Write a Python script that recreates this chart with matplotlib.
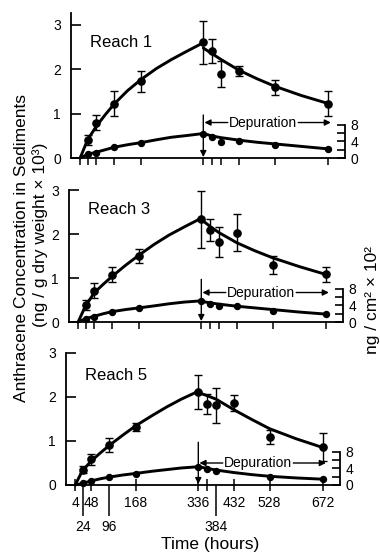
import matplotlib
matplotlib.use('Agg')
import matplotlib.pyplot as plt
import numpy as np

plt.rcParams['font.family'] = ['Liberation Sans', 'DejaVu Sans']

# ---------------- data ----------------
times = [24, 48, 96, 168, 336, 360, 384, 432, 528, 672]
reaches = ['Reach 1', 'Reach 3', 'Reach 5']

# sediment concentration (ng/g dry weight x 10^3), left axis
r1_sed = [0.41, 0.80, 1.22, 1.73, 2.61, 2.42, 1.89, 1.96, 1.60, 1.22]
r1_err = [0.11, 0.16, 0.28, 0.24, 0.49, 0.27, 0.29, 0.12, 0.17, 0.28]
r3_sed = [0.39, 0.71, 1.07, 1.50, 2.33, 2.08, 1.82, 2.03, 1.30, 1.09]
r3_err = [0.12, 0.17, 0.17, 0.17, 0.64, 0.25, 0.34, 0.42, 0.20, 0.17]
r5_sed = [0.35, 0.58, 0.90, 1.32, 2.11, 1.84, 1.81, 1.86, 1.09, 0.86]
r5_err = [0.08, 0.12, 0.16, 0.10, 0.38, 0.22, 0.40, 0.18, 0.15, 0.32]

# areal concentration (ng/cm^2 x 10^2), right axis
r1_area = [0.9, 1.1, 2.6, 3.5, 5.9, 5.1, 3.8, 4.2, 3.1, 2.2]
r3_area = [0.8, 1.3, 2.5, 3.3, 5.1, 4.3, 3.9, 3.9, 2.65, 1.85]
r5_area = [0.4, 1.0, 1.85, 2.65, 4.4, 3.8, 3.4, np.nan, 2.0, 1.37]

# fitted curves
fit_up_t = [4, 24, 48, 72, 96, 132, 168, 210, 250, 290, 336]
fit_dep_t = [336, 360, 384, 432, 480, 528, 600, 672]

r1_fit_up = [0, 0.41, 0.72, 0.98, 1.22, 1.52, 1.77, 2.02, 2.22, 2.40, 2.60]
r1_fit_dep = [2.48, 2.35, 2.22, 1.98, 1.79, 1.62, 1.41, 1.23]
r1_afit_up = [0, 0.9, 1.4, 2.0, 2.6, 3.2, 3.7, 4.4, 5.0, 5.4, 5.9]
r1_afit_dep = [5.9, 5.3, 4.9, 4.3, 3.8, 3.4, 2.8, 2.2]

r3_fit_up = [0, 0.37, 0.67, 0.86, 1.04, 1.29, 1.52, 1.77, 1.98, 2.16, 2.36]
r3_fit_dep = [2.33, 2.17, 2.03, 1.80, 1.62, 1.46, 1.26, 1.08]
r3_afit_up = [0, 0.8, 1.4, 2.0, 2.5, 3.0, 3.4, 3.9, 4.4, 4.8, 5.1]
r3_afit_dep = [5.0, 4.6, 4.3, 3.8, 3.4, 3.0, 2.4, 1.9]

r5_fit_up = [0, 0.33, 0.55, 0.73, 0.90, 1.13, 1.35, 1.57, 1.77, 1.95, 2.13]
r5_fit_dep = [2.10, 2.03, 1.95, 1.71, 1.49, 1.28, 1.05, 0.85]
r5_afit_up = [0, 0.4, 1.0, 1.5, 1.9, 2.4, 2.8, 3.3, 3.7, 4.1, 4.4]
r5_afit_dep = [4.4, 4.0, 3.6, 3.0, 2.5, 2.1, 1.7, 1.4]

xticks_major = [4, 48, 168, 336, 360, 432, 528, 672]
xlabels_major = ['4', '48', '168', '336', '', '432', '528', '672']
xticks_minor = [24, 96, 384]
xlabels_minor = ['24', '96', '384']
depuration_start = 336

panels = [
    dict(name=reaches[0], sed=r1_sed, err=r1_err, area=r1_area,
         up=r1_fit_up, dep=r1_fit_dep, aup=r1_afit_up, adep=r1_afit_dep),
    dict(name=reaches[1], sed=r3_sed, err=r3_err, area=r3_area,
         up=r3_fit_up, dep=r3_fit_dep, aup=r3_afit_up, adep=r3_afit_dep),
    dict(name=reaches[2], sed=r5_sed, err=r5_err, area=r5_area,
         up=r5_fit_up, dep=r5_fit_dep, aup=r5_afit_up, adep=r5_afit_dep),
]

# ---------------- layout (pixels) ----------------
W, H = 380, 554
fig = plt.figure(figsize=(W / 100, H / 100), dpi=100)
fig.patch.set_facecolor('white')

# (left_px, top_px, bottom_px, ytop)
layout = [(70.5, 13, 158, 3.27), (68.5, 190, 322, 3.0), (65.5, 353, 485, 3.0)]
width_px = 274.5
px_per_area = 4.15
reach_y = [2.6, 2.55, 2.48]
dep_y = [0.80, 0.67, 0.50]

lw_fit = 2.1
for i, (p, (lpx, tpx, bpx, ytop)) in enumerate(zip(panels, layout)):
    ax = fig.add_axes([lpx / W, 1 - bpx / H, width_px / W, (bpx - tpx) / H])
    ax.set_xlim(-22, 718)
    ax.set_ylim(0, ytop)
    for s in ['top', 'right']:
        ax.spines[s].set_visible(False)
    for s in ['left', 'bottom']:
        ax.spines[s].set_linewidth(1.3)
    ax.set_yticks([0, 1, 2, 3])
    ax.set_yticklabels(['0', '1', '2', '3'])
    ax.tick_params(axis='y', direction='in', length=7, width=1.2,
                   labelsize=10, pad=7)
    ax.patch.set_alpha(0)

    ax2 = ax.twinx()
    ax2.set_xlim(-22, 718)
    ax2.set_ylim(0, (bpx - tpx) / px_per_area)
    for s in ['top', 'left', 'bottom']:
        ax2.spines[s].set_visible(False)
    ax2.spines['right'].set_bounds(0, 8)
    ax2.spines['right'].set_linewidth(1.3)
    ax2.set_yticks([0, 2, 4, 6, 8])
    ax2.set_yticklabels(['0', '', '4', '', '8'])
    ax2.tick_params(axis='y', direction='in', length=6, width=1.2,
                    labelsize=10, pad=4)

    last = (i == 2)
    ax.set_xticks(xticks_major)
    ax.set_xticks(xticks_minor, minor=True)
    if last:
        ax.set_xticklabels(xlabels_major)
        ax.set_xticklabels(xlabels_minor, minor=True)
        ax.tick_params(axis='x', which='major', direction='inout', length=8,
                       width=1.1, labelsize=10, pad=4)
        ax.tick_params(axis='x', which='minor', direction='out', length=22,
                       width=1.1, labelsize=10, pad=3)
    else:
        ax.set_xticklabels([''] * len(xticks_major))
        ax.set_xticklabels([''] * len(xticks_minor), minor=True)
        ax.tick_params(axis='x', which='both', direction='out', length=5,
                       width=1.1)

    # fitted curves
    ax.plot(fit_up_t, p['up'], color='k', lw=lw_fit, clip_on=False,
            solid_joinstyle='round', solid_capstyle='round', zorder=3)
    ax.plot(fit_dep_t, p['dep'], color='k', lw=lw_fit, clip_on=False,
            solid_joinstyle='round', solid_capstyle='round', zorder=3)
    ax2.plot(fit_up_t, p['aup'], color='k', lw=lw_fit, clip_on=False,
             solid_joinstyle='round', solid_capstyle='round', zorder=3)
    ax2.plot(fit_dep_t, p['adep'], color='k', lw=lw_fit, clip_on=False,
             solid_joinstyle='round', solid_capstyle='round', zorder=3)

    # data points
    ax.errorbar(times, p['sed'], yerr=p['err'], fmt='o', color='k',
                markersize=5.2, elinewidth=1.0, capsize=2.6, capthick=1.0,
                clip_on=False, zorder=4)
    ax2.plot(times, p['area'], 'o', color='k', markersize=4.3,
             clip_on=False, zorder=4)

    # labels inside
    ax.text(30, reach_y[i], p['name'], fontsize=12, ha='left', va='center')

    # depuration start arrow
    ax.annotate('', xy=(depuration_start, 0.02),
                xytext=(depuration_start, 0.97),
                arrowprops=dict(arrowstyle='-|>', color='k', lw=1.0,
                                mutation_scale=9, shrinkA=0, shrinkB=0))
    ax.text(496, dep_y[i], 'Depuration', fontsize=10, ha='center',
            va='center')
    ax.annotate('', xy=(depuration_start + 3, dep_y[i]),
                xytext=(402, dep_y[i]),
                arrowprops=dict(arrowstyle='-|>', color='k', lw=1.0,
                                mutation_scale=9, shrinkA=0, shrinkB=0))
    ax.annotate('', xy=(680, dep_y[i]), xytext=(592, dep_y[i]),
                arrowprops=dict(arrowstyle='-|>', color='k', lw=1.0,
                                mutation_scale=9, shrinkA=0, shrinkB=0))

# axis titles
fig.text(22 / W, 1 - 248 / H, 'Anthracene Concentration in Sediments',
         rotation=90, ha='center', va='center', fontsize=12.5)
fig.text(40 / W, 1 - 235 / H, '(ng / g dry weight × 10³)',
         rotation=90, ha='center', va='center', fontsize=12.5)
fig.text(373 / W, 1 - 300 / H, 'ng / cm² × 10²',
         rotation=90, ha='center', va='center', fontsize=12.5)
fig.text(210 / W, 1 - 545 / H, 'Time (hours)', ha='center', va='center',
         fontsize=12.5)

fig.savefig('out.png', dpi=100, facecolor='white')
